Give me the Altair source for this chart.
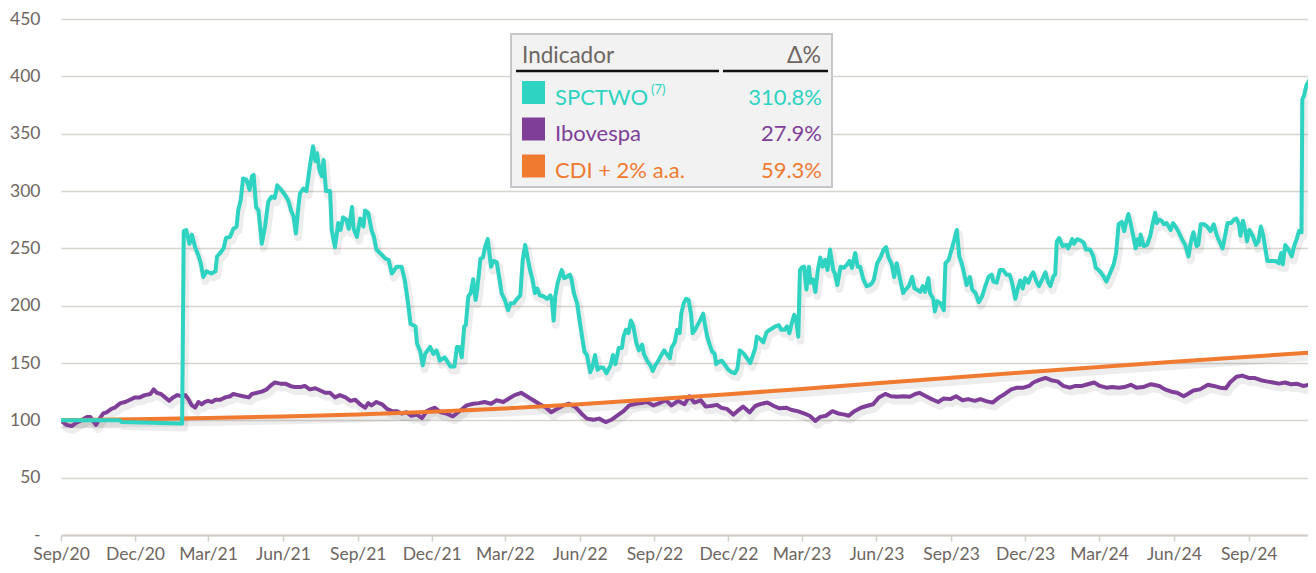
import altair as alt
import pandas as pd

START = "2020-09-01"

# ---- data: (days since 2020-09-01, index value) ----
spc_2020_21 = [(0,100),(72,100),(75,98.5),(149,97.3),(151,265),(154,266),(158,254),(161,262),(165,251),(169,244),(172,237),(175,225),(179,230),(185,228),(190,230),(192,243),(196,246),(200,250),(203,259),(208,260),(212,267),(216,269),(218,283),(221,292),(224,311),(228,310),(232,301),(235,313),(237,314),(240,286),(243,283),(247,254),(251,269),(255,291),(259,295),(263,294),(266,305),(272,300),(277,295),(280,291),(283,283),(286,278),(289,263),(292,286),(294,298),(298,302),(302,300),(306,321),(308,330),(310,339),(313,326),(315,333),(318,318),(321,313),(323,327),(326,300),(331,300),(333,266),(337,251),(341,272),(344,266),(347,277),(351,275),(354,267),(358,286),(360,267),(364,260),(368,276),(372,269),(374,283),(378,281),(382,266),(385,260),(388,249),(395,244),(399,241),(403,240),(407,228),(413,234),(419,234),(423,222),(427,202),(430,184),(436,182),(438,167),(442,160),(445,148),(448,158),(454,164),(458,158),(462,161),(466,152),(472,155),(479,147)]
spc_2022 = [(484,147),(487,164),(490,164),(493,155),(496,182),(498,183),(501,208),(504,211),(507,223),(510,205),(512,214),(516,241),(519,242),(522,252),(525,258),(527,246),(529,234),(532,239),(536,238),(539,225),(542,211),(546,205),(550,196),(553,202),(557,202),(560,205),(565,209),(568,240),(571,253),(574,242),(577,231),(580,223),(583,211),(586,215),(589,209),(594,208),(598,206),(602,209),(604,204),(606,187),(608,208),(611,220),(614,227),(616,231),(619,224),(622,225),(626,227),(628,223),(631,211),(635,202),(638,187),(641,173),(644,160),(647,157),(651,142),(654,147),(657,157),(660,144),(663,146),(667,146),(671,141),(676,148),(679,157),(682,149),(686,163),(690,163),(692,173),(695,179),(698,176),(701,187),(704,182),(708,167),(711,161),(715,166),(717,158),(721,152),(725,148),(728,143),(731,148),(734,151),(737,155),(742,161),(745,158),(749,154),(751,163),(755,168),(758,179),(761,176),(763,193),(766,202),(769,206),(772,205),(775,193),(777,176),(780,179),(783,183),(786,187),(790,193),(792,184),(795,173),(798,166),(801,160),(804,158),(806,149),(809,151),(813,152),(817,148),(821,144),(825,142),(829,141),(832,145),(835,161)]
spc_2023 = [(840,158),(848,150),(854,163),(856,173),(860,171),(864,168),(868,177),(872,179),(879,182),(883,183),(886,179),(890,179),(893,182),(896,176),(899,185),(902,192),(904,189),(907,173),(909,231),(911,233),(914,234),(917,214),(920,234),(922,220),(925,223),(928,212),(931,231),(934,242),(937,234),(940,240),(943,231),(946,249),(950,231),(952,228),(955,218),(959,234),(963,233),(967,236),(970,239),(973,233),(977,246),(980,234),(983,234),(987,223),(991,217),(995,218),(998,220),(1000,223),(1004,237),(1008,242),(1012,249),(1015,251),(1018,242),(1022,236),(1025,225),(1028,237),(1032,224),(1036,211),(1039,214),(1043,217),(1047,225),(1050,215),(1053,214),(1057,212),(1060,217),(1063,212),(1067,224),(1069,211),(1073,206),(1075,195),(1078,204),(1082,202),(1086,196),(1088,237),(1092,240),(1096,250),(1099,258),(1102,266),(1105,243),(1108,237),(1111,228),(1114,218),(1118,225),(1121,214),(1125,211),(1129,203),(1133,208),(1137,217),(1141,225),(1145,227),(1147,221),(1151,220),(1155,231),(1159,231),(1163,227),(1167,227),(1170,220),(1174,206),(1177,215),(1180,222)]
spc_2024 = [(1183,215),(1186,224),(1190,220),(1193,226),(1196,229),(1200,221),(1203,217),(1207,223),(1211,229),(1214,221),(1217,217),(1221,226),(1223,227),(1225,256),(1228,259),(1232,252),(1237,253),(1239,250),(1244,258),(1246,254),(1250,258),(1254,257),(1258,255),(1261,249),(1266,249),(1270,243),(1273,233),(1278,230),(1282,226),(1286,221),(1289,226),(1292,231),(1295,236),(1298,246),(1301,271),(1305,273),(1308,265),(1310,272),(1313,280),(1316,271),(1319,261),(1322,250),(1324,258),(1327,253),(1328,262),(1332,252),(1336,253),(1340,261),(1343,272),(1346,281),(1348,272),(1351,275),(1354,274),(1357,271),(1360,272),(1365,266),(1368,272),(1371,269),(1375,264),(1379,258),(1383,253),(1387,243),(1390,256),(1393,264),(1397,252),(1399,253),(1402,271),(1406,271),(1410,269),(1414,265),(1418,271),(1422,261),(1425,256),(1429,250),(1432,261),(1435,272),(1439,272),(1443,275),(1446,276),(1449,271),(1451,261),(1454,274),(1457,265),(1459,256),(1462,266),(1466,261),(1470,253),(1473,256),(1476,269),(1479,261),(1481,252),(1484,239),(1488,239),(1494,239),(1498,237),(1501,246),(1503,236),(1506,253),(1509,250),(1512,246),(1514,243),(1517,252),(1520,258),(1523,265),(1526,264),(1527,380),(1529,383),(1532,392),(1536,397),(1541,399),(1544,399)]

ibov_2020_21 = [(0,100),(1,99),(7,96),(13,95),(19,98),(25,100),(32,103),(36,103),(40,99),(43,96),(47,101),(52,106),(56,107),(62,110),(66,111),(73,115),(79,116),(85,118),(91,120),(97,120),(103,122),(110,123),(114,127),(118,124),(123,123),(128,120),(133,117),(138,120),(143,122),(149,121),(153,122),(157,118),(161,113),(165,111),(169,116),(173,114),(177,116),(181,117),(186,116),(190,118),(196,118),(202,120),(208,121),(212,123),(218,122),(224,121),(231,120),(235,123),(241,124),(247,125),(253,127),(259,131),(263,133),(270,132),(276,132),(282,130),(288,129),(294,129),(300,130),(306,127),(313,128),(319,126),(325,124),(331,124),(337,120),(343,122),(350,120),(356,117),(362,118),(368,114),(374,111),(378,115),(382,113),(388,116),(395,114),(401,110),(407,108),(413,108),(419,106),(425,107),(431,104),(438,105),(444,102),(450,108),(456,110)]
ibov_2022 = [(460,111),(467,107),(474,106),(482,103.5),(492,109),(499,113),(507,114.5),(514,115),(521,116),(529,114.5),(536,117.5),(544,116),(551,119),(558,122),(566,124),(573,121),(581,117.5),(588,114.5),(596,111.5),(603,107),(610,110),(618,113),(625,114.5),(633,111.5),(640,106),(647,101.5),(655,100.5),(662,101.5),(670,98.5),(677,100.5),(685,104.5),(692,108),(699,113),(707,114.5),(714,115),(721,116),(729,113),(736,115),(744,117.5),(751,113),(759,117)]
ibov_2023_24 = [(767,114),(773,121),(779,115.5),(787,117.5),(793,112),(799,112.5),(807,113.5),(812,111),(819,110),(827,105),(832,108),(839,112),(847,107),(854,112.5),(862,114.5),(869,115.5),(877,112.5),(884,110.5),(892,111),(899,109),(906,108),(914,106),(921,104),(928,99.5),(934,103),(941,104),(949,108),(956,106),(964,105),(969,104),(976,108),(984,111),(991,112.5),(999,114),(1006,120),(1014,123),(1021,121),(1029,120.5),(1036,121),(1044,120.5),(1051,123),(1056,124),(1064,121),(1071,118.5),(1079,116),(1086,119),(1094,118.5),(1101,121),(1109,117.5),(1116,118.5),(1124,117),(1131,118.5),(1139,116.5),(1146,115.5),(1154,120),(1161,123),(1169,127),(1176,128.5),(1184,128.5),(1191,130),(1196,133),(1203,135),(1211,137),(1218,135),(1226,134),(1233,130),(1241,128.5),(1248,130),(1256,130),(1263,131.5),(1271,133),(1278,130),(1286,128.5),(1293,129),(1301,128.5),(1308,129),(1316,131),(1323,128.5),(1331,129),(1341,131.5),(1351,130),(1358,127),(1366,125),(1373,124),(1381,121),(1386,123),(1393,126),(1401,127),(1411,131),(1418,130),(1426,128.5),(1433,128),(1438,133),(1446,138),(1453,139),(1461,137),(1468,137),(1476,135),(1483,134),(1491,133),(1498,132),(1506,133),(1513,131.5),(1520,132),(1528,130),(1536,131),(1544,129)]

cdi = [(0,100),(91,101),(181,102),(273,103.4),(365,105.1),(456,107.4),(546,110.3),(638,114.1),(730,118.3),(821,122.8),(911,127.4),(1003,132.3),(1095,137.1),(1186,141.9),(1277,146.5),(1369,151),(1461,155.5),(1544,159.3)]

tick_months = [(2020,9),(2020,12),(2021,3),(2021,6),(2021,9),(2021,12),(2022,3),(2022,6),(2022,9),(2022,12),(2023,3),(2023,6),(2023,9),(2023,12),(2024,3),(2024,6),(2024,9)]
y_ticks = [0,50,100,150,200,250,300,350,400,450]

leg_names = ["SPCTWO", "Ibovespa", "CDI + 2% a.a."]
leg_delta = ["310.8%", "27.9%", "59.3%"]
leg_colors = ["#2ED3C1", "#7F3F98", "#F07A30"]

TEXT = "#6D6661"
FONT = "Lato"


def frame(parts):
    pairs = [p for part in parts for p in part]
    df = pd.DataFrame(pairs, columns=["day", "value"])
    df["date"] = pd.Timestamp(START) + pd.to_timedelta(df["day"], unit="D")
    return df[["date", "value"]]


spc_df = frame([spc_2020_21, spc_2022, spc_2023, spc_2024])
ibov_df = frame([ibov_2020_21, ibov_2022, ibov_2023_24])
cdi_df = frame([cdi])

x_enc = alt.X(
    "date:T",
    title=None,
    scale=alt.Scale(domain=[alt.DateTime(year=2020, month=9, date=1),
                            alt.DateTime(year=2024, month=11, date=13)]),
    axis=alt.Axis(
        values=[alt.DateTime(year=y, month=m, date=1) for y, m in tick_months],
        format="%b/%y", grid=False, domain=True, domainColor="#D3CEC8",
        domainWidth=2, ticks=True, tickColor="#D3CEC8", tickWidth=1.5,
        tickSize=6, labelPadding=4, labelFontSize=17.5, labelColor=TEXT,
        labelFont=FONT, labelFlush=False, labelOverlap=False,
    ),
)
y_enc = alt.Y(
    "value:Q",
    title=None,
    scale=alt.Scale(domain=[0, 450], nice=False, zero=True),
    axis=alt.Axis(
        values=y_ticks, labelExpr="datum.value == 0 ? '-' : datum.label",
        grid=True, gridColor="#D8D4CF", gridWidth=1.6, domain=False,
        ticks=False, labelPadding=21, labelFontSize=17.5, labelColor=TEXT,
        labelFont=FONT,
    ),
)


def series(df, color, shadow=False):
    if shadow:
        mk = alt.Chart(df).mark_line(color="#000000", opacity=0.07,
                                     strokeWidth=8, xOffset=2, yOffset=4,
                                     clip=True, strokeJoin="round")
    else:
        mk = alt.Chart(df).mark_line(color=color, strokeWidth=4, clip=True,
                                     strokeJoin="round")
    return mk.encode(x=x_enc, y=y_enc)


layers = [
    series(ibov_df, None, True),
    series(cdi_df, None, True),
    series(spc_df, None, True),
    series(ibov_df, leg_colors[1]),
    series(cdi_df, leg_colors[2]),
    series(spc_df, leg_colors[0]),
]

one = pd.DataFrame({"k": [0]})

# legend table box
layers.append(alt.Chart(one).mark_rect(fill="#F2F2F2", stroke="#C6C6C6", strokeWidth=2).encode(
    x=alt.value(450), x2=alt.value(771), y=alt.value(15), y2=alt.value(168)))
layers.append(alt.Chart(one).mark_text(text="Indicador", align="left", baseline="alphabetic",
                                       font=FONT, fontSize=22.5, color=TEXT).encode(
    x=alt.value(461), y=alt.value(44)))
layers.append(alt.Chart(one).mark_text(text="Δ%", align="right", baseline="alphabetic",
                                       font=FONT, fontSize=23, color=TEXT).encode(
    x=alt.value(760), y=alt.value(44)))
layers.append(alt.Chart(one).mark_rule(color="#111111", strokeWidth=2.5).encode(
    x=alt.value(455), x2=alt.value(658), y=alt.value(52)))
layers.append(alt.Chart(one).mark_rule(color="#111111", strokeWidth=2.5).encode(
    x=alt.value(662), x2=alt.value(767), y=alt.value(52)))

row_top = [62, 98.5, 135.5]
for i in range(3):
    layers.append(alt.Chart(one).mark_rect(fill=leg_colors[i]).encode(
        x=alt.value(461), x2=alt.value(484), y=alt.value(row_top[i]), y2=alt.value(row_top[i] + 23)))
    layers.append(alt.Chart(one).mark_text(text=leg_names[i], align="left", baseline="alphabetic",
                                           font=FONT, fontSize=22, color=leg_colors[i]).encode(
        x=alt.value(494), y=alt.value(row_top[i] + 23.5)))
    layers.append(alt.Chart(one).mark_text(text=leg_delta[i], align="right", baseline="alphabetic",
                                           font=FONT, fontSize=22, color=leg_colors[i]).encode(
        x=alt.value(761), y=alt.value(row_top[i] + 23.5)))

layers.append(alt.Chart(one).mark_text(text="(7)", align="left", baseline="alphabetic",
                                       font=FONT, fontSize=13, color=leg_colors[0]).encode(
    x=alt.value(590), y=alt.value(75)))

chart = alt.layer(*layers).properties(
    width=1247, height=516,
    autosize=alt.AutoSizeParams(type="none"),
    padding={"left": 53, "top": 11, "right": 0, "bottom": 30},
    background="white",
).configure_view(stroke=None)

chart.save("out.html", embed_options={"renderer": "svg", "actions": False})
